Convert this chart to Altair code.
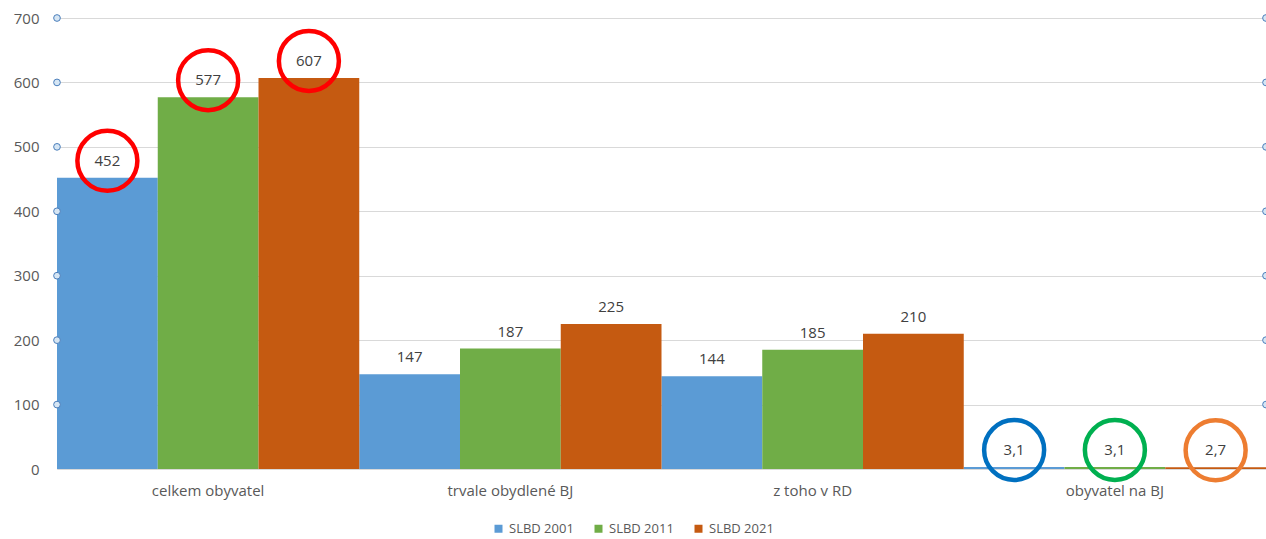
import altair as alt
import pandas as pd

# Census results (SLBD = sčítání lidu, domů a bytů)
categories = ["celkem obyvatel", "trvale obydlené BJ", "z toho v RD", "obyvatel na BJ"]
series = ["SLBD 2001", "SLBD 2011", "SLBD 2021"]
values_2001 = [452, 147, 144, 3.1]
values_2011 = [577, 187, 185, 3.1]
values_2021 = [607, 225, 210, 2.7]
bar_colors = ["#5B9BD5", "#70AD47", "#C55A11"]

y_ticks = [0, 100, 200, 300, 400, 500, 600, 700]
marker_ticks = [100, 200, 300, 400, 500, 600, 700]

# highlighted values: (category, census, ring colour)
ring_categories = ["celkem obyvatel", "celkem obyvatel", "celkem obyvatel",
                   "obyvatel na BJ", "obyvatel na BJ", "obyvatel na BJ"]
ring_series = ["SLBD 2001", "SLBD 2011", "SLBD 2021",
               "SLBD 2001", "SLBD 2011", "SLBD 2021"]
ring_colors = ["#FF0000", "#FF0000", "#FF0000", "#0070C0", "#00B050", "#ED7D31"]

rows = []
for s, vals in zip(series, [values_2001, values_2011, values_2021]):
    for c, v in zip(categories, vals):
        rows.append({"kategorie": c, "sčítání": s, "hodnota": v})
df = pd.DataFrame(rows)

rings = pd.DataFrame({"kategorie": ring_categories, "sčítání": ring_series, "barva": ring_colors})
rings = rings.merge(df, on=["kategorie", "sčítání"])

markers = pd.DataFrame({"hodnota": marker_ticks})

W, H = 1209, 451
TXT = "#595959"
FONT = "Open Sans"

x = alt.X("kategorie:N", sort=categories,
          scale=alt.Scale(paddingInner=0, paddingOuter=0),
          axis=alt.Axis(title=None, labelAngle=0, ticks=False, domainColor="#d9d9d9",
                        labelPadding=14, labelFontSize=15, labelColor=TXT, grid=False))
xo = alt.XOffset("sčítání:N", sort=series, scale=alt.Scale(paddingInner=0, paddingOuter=0))
y = alt.Y("hodnota:Q", scale=alt.Scale(domain=[0, 700], nice=False),
          axis=alt.Axis(values=y_ticks, title=None, ticks=False, domain=False,
                        gridColor="#d9d9d9", labelPadding=18, labelFontSize=15,
                        labelColor=TXT))

bars = alt.Chart(df).mark_bar().encode(
    x=x, xOffset=xo, y=y,
    color=alt.Color("sčítání:N", sort=series,
                    scale=alt.Scale(domain=series, range=bar_colors),
                    legend=alt.Legend(title=None, orient="none", legendX=435, legendY=504,
                                      direction="horizontal", symbolType="square",
                                      symbolSize=64, symbolStrokeWidth=0,
                                      labelFontSize=13, labelColor=TXT, columnPadding=18)),
)

labels = alt.Chart(df).transform_calculate(
    popisek="replace(toString(datum.hodnota), '.', ',')"
).mark_text(dy=-17, fontSize=15, color="#404040", baseline="middle").encode(
    x=x, xOffset=xo, y=y, text="popisek:N"
)

ring_marks = alt.Chart(rings).mark_point(
    shape="circle", filled=False, size=3600, strokeWidth=4.5, opacity=1, yOffset=-17
).encode(
    x=x, xOffset=xo, y=y, stroke=alt.Color("barva:N", scale=None)
)

left_markers = alt.Chart(markers).mark_circle(
    size=45, color="#d6e6f4", stroke="#4a7ebb", strokeWidth=1, opacity=1
).encode(x=alt.value(0), y=alt.Y("hodnota:Q"))

right_markers = alt.Chart(markers).mark_circle(
    size=45, color="#d6e6f4", stroke="#4a7ebb", strokeWidth=1, opacity=1
).encode(x=alt.value(W), y=alt.Y("hodnota:Q"))

chart = alt.layer(bars, labels, ring_marks, left_markers, right_markers).properties(
    width=W, height=H,
    autosize=alt.AutoSizeParams(type="none"),
    padding={"left": 57, "top": 18, "right": 0, "bottom": 70},
).configure(font=FONT).configure_view(stroke=None)

chart.save("out.html", embed_options={"renderer": "svg", "actions": False})
